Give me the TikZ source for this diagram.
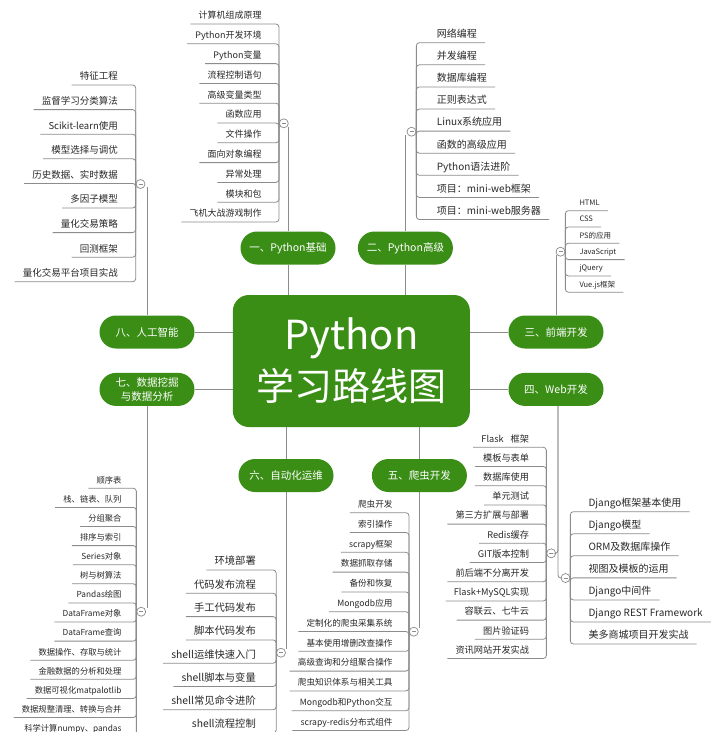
\documentclass[tikz,border=0pt]{standalone}
\usepackage{fontspec}
\setmainfont{Noto Sans CJK SC}
\usepackage{xcolor}
\usepackage{tikz}
\usetikzlibrary{positioning}
\definecolor{mindgreen}{RGB}{58,142,22}
\definecolor{linegrey}{RGB}{140,140,140}
\definecolor{inkdark}{RGB}{40,40,40}

\begin{document}
\begin{tikzpicture}[
  x=1pt, y=-1pt,
  core/.style={rectangle, rounded corners=16pt, fill=mindgreen, text=white,
               minimum width=237pt, minimum height=132pt, align=center,
               font=\fontsize{38}{51}\selectfont},
  pill/.style={rectangle, rounded corners=16.5pt, fill=mindgreen, text=white,
               minimum width=95pt, minimum height=33pt, inner ysep=2pt, align=center,
               font=\fontsize{10.5}{14}\selectfont},
  item/.style={inner xsep=8pt, inner ysep=3pt, text height=8pt, text depth=2pt,
               text=inkdark},
  litem/.style={item, anchor=south east},
  ritem/.style={item, anchor=south west},
  fold/.style={circle, draw=linegrey, fill=white, minimum size=9pt, inner sep=0pt,
               line width=0.7pt,
               path picture={\draw[linegrey, line width=0.6pt]
                 ([xshift=-2pt]path picture bounding box.center) --
                 ([xshift=2pt]path picture bounding box.center);}},
  tree/.style={draw=linegrey, line width=0.8pt, rounded corners=3pt},
  link/.style={draw=linegrey, line width=1pt}
]
\path[fill=white, use as bounding box] (0,0) rectangle (720,732);

% hub and main branches
\node[core] (core) at (351.4,361) {{\fontsize{40}{51}\selectfont Python}\\学习路线图};
\node[pill] (p1) at (288,248) {一、Python基础};
\node[pill, right=22pt of p1] (p2) {二、Python高级};
\node[pill] (p3) at (556,332) {三、前端开发};
\node[pill, below=24pt of p3] (p4) {四、Web开发};
\node[pill] (p6) at (286,475.5) {六、自动化运维};
\node[pill, right=38pt of p6] (p5) {五、爬虫开发};
\node[pill] (p8) at (147,332) {八、人工智能};
\node[pill, below=24pt of p8] (p7) {七、数据挖掘\\与数据分析};

\draw[link] (p1.south) -- (p1.south |- core.north);
\draw[link] (p2.south) -- (p2.south |- core.north);
\draw[link] (p3.west) -- (p3.west -| core.east);
\draw[link] (p4.west) -- (p4.west -| core.east);
\draw[link] (p5.north) -- (p5.north |- core.south);
\draw[link] (p6.north) -- (p6.north |- core.south);
\draw[link] (p7.east) -- (p7.east -| core.west);
\draw[link] (p8.east) -- (p8.east -| core.west);

% fold buttons
\node[fold] (c8) at (140.5,184) {};
\node[fold] (c1) at (283.8,123.3) {};
\node[fold] (c2) at (411.5,131.7) {};
\node[fold] (c3) at (560.5,251.7) {};
\node[fold] (c4a) at (551.2,553.3) {};
\node[fold] (c4b) at (565.5,578) {};
\node[fold] (c5) at (413.8,631.7) {};
\node[fold] (c6) at (281,652.7) {};
\node[fold] (c7) at (141.2,611.7) {};

\draw[tree] (p8.north) -- (p8.north |- c8.south east);
\draw[tree] (p1.north) -- (p1.north |- c1.south east);
\draw[tree] (p2.north) -- (p2.north |- c2.south west);
\draw[tree] (p3.north) -- (p3.north |- c3.south west);
\draw[tree] ([xshift=2pt]p4.south) |- (c4b.west);
\draw[tree] ([xshift=2pt]p4.south) |- (c4a.east);
\draw[tree] (p5.south) -- (p5.south |- c5.north east);
\draw[tree] (p6.south) -- (p6.south |- c6.north east);
\draw[tree] (p7.south) -- (p7.south |- c7.north east);

% 八 人工智能
\begin{scope}[font=\fontsize{9.5}{11}\selectfont]
\node[litem] (ai1) at (126,85) {特征工程};
\node[litem] (ai2) at ([yshift=-24.6pt]ai1.south east) {监督学习分类算法};
\node[litem] (ai3) at ([yshift=-24.6pt]ai2.south east) {Scikit-learn使用};
\node[litem] (ai4) at ([yshift=-24.6pt]ai3.south east) {模型选择与调优};
\node[litem] (ai5) at ([yshift=-24.6pt]ai4.south east) {历史数据、实时数据};
\node[litem] (ai6) at ([yshift=-24.6pt]ai5.south east) {多因子模型};
\node[litem] (ai7) at ([yshift=-24.6pt]ai6.south east) {量化交易策略};
\node[litem] (ai8) at ([yshift=-24.6pt]ai7.south east) {回测框架};
\node[litem] (ai9) at ([yshift=-24.6pt]ai8.south east) {量化交易平台项目实战};
\end{scope}
\foreach \i in {1,...,9} \draw[tree] (ai\i.south west) -| (c8.west);

% 一 Python基础
\begin{scope}[font=\fontsize{9}{11}\selectfont]
\node[litem] (base1) at (269.7,24) {计算机组成原理};
\node[litem] (base2) at ([yshift=-19.8pt]base1.south east) {Python开发环境};
\node[litem] (base3) at ([yshift=-19.8pt]base2.south east) {Python变量};
\node[litem] (base4) at ([yshift=-19.8pt]base3.south east) {流程控制语句};
\node[litem] (base5) at ([yshift=-19.8pt]base4.south east) {高级变量类型};
\node[litem] (base6) at ([yshift=-19.8pt]base5.south east) {函数应用};
\node[litem] (base7) at ([yshift=-19.8pt]base6.south east) {文件操作};
\node[litem] (base8) at ([yshift=-19.8pt]base7.south east) {面向对象编程};
\node[litem] (base9) at ([yshift=-19.8pt]base8.south east) {异常处理};
\node[litem] (base10) at ([yshift=-19.8pt]base9.south east) {模块和包};
\node[litem] (base11) at ([yshift=-19.8pt]base10.south east) {飞机大战游戏制作};
\end{scope}
\foreach \i in {1,...,11} \draw[tree] (base\i.south west) -| (c1.west);

% 二 Python高级
\begin{scope}[font=\fontsize{10}{12}\selectfont]
\node[ritem] (adv1) at (428.7,42.7) {网络编程};
\node[ritem] (adv2) at ([yshift=-22.1pt]adv1.south west) {并发编程};
\node[ritem] (adv3) at ([yshift=-22.1pt]adv2.south west) {数据库编程};
\node[ritem] (adv4) at ([yshift=-22.1pt]adv3.south west) {正则表达式};
\node[ritem] (adv5) at ([yshift=-22.1pt]adv4.south west) {Linux系统应用};
\node[ritem] (adv6) at ([yshift=-22.1pt]adv5.south west) {函数的高级应用};
\node[ritem] (adv7) at ([yshift=-22.1pt]adv6.south west) {Python语法进阶};
\node[ritem] (adv8) at ([yshift=-22.1pt]adv7.south west) {项目：mini-web框架};
\node[ritem] (adv9) at ([yshift=-22.1pt]adv8.south west) {项目：mini-web服务器};
\end{scope}
\foreach \i in {1,...,9} \draw[tree] (adv\i.south east) -| (c2.east);

% 三 前端开发
\begin{scope}[font=\fontsize{7.5}{9}\selectfont]
\node[ritem] (fe1) at (571.3,210.7) {HTML};
\node[ritem] (fe2) at ([yshift=-16.3pt]fe1.south west) {CSS};
\node[ritem] (fe3) at ([yshift=-16.3pt]fe2.south west) {PS的应用};
\node[ritem] (fe4) at ([yshift=-16.3pt]fe3.south west) {JavaScript};
\node[ritem] (fe5) at ([yshift=-16.3pt]fe4.south west) {jQuery};
\node[ritem] (fe6) at ([yshift=-16.3pt]fe5.south west) {Vue.js框架};
\end{scope}
\foreach \i in {1,...,6} \draw[tree] (fe\i.south east) -| (c3.east);

% 四 Web开发: Flask
\begin{scope}[font=\fontsize{9.2}{11}\selectfont]
\node[litem] (fl1) at (537.3,447.3) {Flask\hspace{7pt}框架};
\node[litem] (fl2) at ([yshift=-19.2pt]fl1.south east) {模板与表单};
\node[litem] (fl3) at ([yshift=-19.2pt]fl2.south east) {数据库使用};
\node[litem] (fl4) at ([yshift=-19.2pt]fl3.south east) {单元测试};
\node[litem] (fl5) at ([yshift=-19.2pt]fl4.south east) {第三方扩展与部署};
\node[litem] (fl6) at ([yshift=-19.2pt]fl5.south east) {Redis缓存};
\node[litem] (fl7) at ([yshift=-19.2pt]fl6.south east) {GIT版本控制};
\node[litem] (fl8) at ([yshift=-19.2pt]fl7.south east) {前后端不分离开发};
\node[litem] (fl9) at ([yshift=-19.2pt]fl8.south east) {Flask+MySQL实现};
\node[litem] (fl10) at ([yshift=-19.2pt]fl9.south east) {容联云、七牛云};
\node[litem] (fl11) at ([yshift=-19.2pt]fl10.south east) {图片验证码};
\node[litem] (fl12) at ([yshift=-19.2pt]fl11.south east) {资讯网站开发实战};
\end{scope}
\foreach \i in {1,...,12} \draw[tree] (fl\i.south west) -| (c4a.west);

% 四 Web开发: Django
\begin{scope}[font=\fontsize{10}{12}\selectfont]
\node[ritem] (dj1) at (580.3,511.7) {Django框架基本使用};
\node[ritem] (dj2) at ([yshift=-22.05pt]dj1.south west) {Django模型};
\node[ritem] (dj3) at ([yshift=-22.05pt]dj2.south west) {ORM及数据库操作};
\node[ritem] (dj4) at ([yshift=-22.05pt]dj3.south west) {视图及模板的运用};
\node[ritem] (dj5) at ([yshift=-22.05pt]dj4.south west) {Django中间件};
\node[ritem] (dj6) at ([yshift=-22.05pt]dj5.south west) {Django REST Framework};
\node[ritem] (dj7) at ([yshift=-22.05pt]dj6.south west) {美多商城项目开发实战};
\end{scope}
\foreach \i in {1,...,7} \draw[tree] (dj\i.south east) -| (c4b.east);

% 五 爬虫开发
\begin{scope}[font=\fontsize{8.6}{10}\selectfont]
\node[litem] (sp1) at (400.7,512.7) {爬虫开发};
\node[litem] (sp2) at ([yshift=-19.8pt]sp1.south east) {索引操作};
\node[litem] (sp3) at ([yshift=-19.8pt]sp2.south east) {scrapy框架};
\node[litem] (sp4) at ([yshift=-19.8pt]sp3.south east) {数据抓取存储};
\node[litem] (sp5) at ([yshift=-19.8pt]sp4.south east) {备份和恢复};
\node[litem] (sp6) at ([yshift=-19.8pt]sp5.south east) {Mongodb应用};
\node[litem] (sp7) at ([yshift=-19.8pt]sp6.south east) {定制化的爬虫采集系统};
\node[litem] (sp8) at ([yshift=-19.8pt]sp7.south east) {基本使用增删改查操作};
\node[litem] (sp9) at ([yshift=-19.8pt]sp8.south east) {高级查询和分组聚合操作};
\node[litem] (sp10) at ([yshift=-19.8pt]sp9.south east) {爬虫知识体系与相关工具};
\node[litem] (sp11) at ([yshift=-19.8pt]sp10.south east) {Mongodb和Python交互};
\node[litem] (sp12) at ([yshift=-19.8pt]sp11.south east) {scrapy-redis分布式组件};
\end{scope}
\foreach \i in {1,...,12} \draw[tree] (sp\i.south west) -| (c5.west);

% 六 自动化运维
\begin{scope}[font=\fontsize{10.3}{12}\selectfont]
\node[litem] (ops1) at (264,570) {环境部署};
\node[litem] (ops2) at ([yshift=-23.3pt]ops1.south east) {代码发布流程};
\node[litem] (ops3) at ([yshift=-23.3pt]ops2.south east) {手工代码发布};
\node[litem] (ops4) at ([yshift=-23.3pt]ops3.south east) {脚本代码发布};
\node[litem] (ops5) at ([yshift=-23.3pt]ops4.south east) {shell运维快速入门};
\node[litem] (ops6) at ([yshift=-23.3pt]ops5.south east) {shell脚本与变量};
\node[litem] (ops7) at ([yshift=-23.3pt]ops6.south east) {shell常见命令进阶};
\node[litem] (ops8) at ([yshift=-23.3pt]ops7.south east) {shell流程控制};
\end{scope}
\foreach \i in {1,...,8} \draw[tree] (ops\i.south west) -| (c6.west);

% 七 数据挖掘与数据分析
\begin{scope}[font=\fontsize{8.3}{10}\selectfont]
\node[litem] (dm1) at (129.7,488.3) {顺序表};
\node[litem] (dm2) at ([yshift=-19.1pt]dm1.south east) {栈、链表、队列};
\node[litem] (dm3) at ([yshift=-19.1pt]dm2.south east) {分组聚合};
\node[litem] (dm4) at ([yshift=-19.1pt]dm3.south east) {排序与索引};
\node[litem] (dm5) at ([yshift=-19.1pt]dm4.south east) {Series对象};
\node[litem] (dm6) at ([yshift=-19.1pt]dm5.south east) {树与树算法};
\node[litem] (dm7) at ([yshift=-19.1pt]dm6.south east) {Pandas绘图};
\node[litem] (dm8) at ([yshift=-19.1pt]dm7.south east) {DataFrame对象};
\node[litem] (dm9) at ([yshift=-19.1pt]dm8.south east) {DataFrame查询};
\node[litem] (dm10) at ([yshift=-19.1pt]dm9.south east) {数据操作、存取与统计};
\node[litem] (dm11) at ([yshift=-19.1pt]dm10.south east) {金融数据的分析和处理};
\node[litem] (dm12) at ([yshift=-19.1pt]dm11.south east) {数据可视化matpalotlib};
\node[litem] (dm13) at ([yshift=-19.1pt]dm12.south east) {数据规整清理、转换与合并};
\node[litem] (dm14) at ([yshift=-19.1pt]dm13.south east) {科学计算numpy、pandas};
\end{scope}
\foreach \i in {1,...,14} \draw[tree] (dm\i.south west) -| (c7.west);
\end{tikzpicture}
\end{document}
